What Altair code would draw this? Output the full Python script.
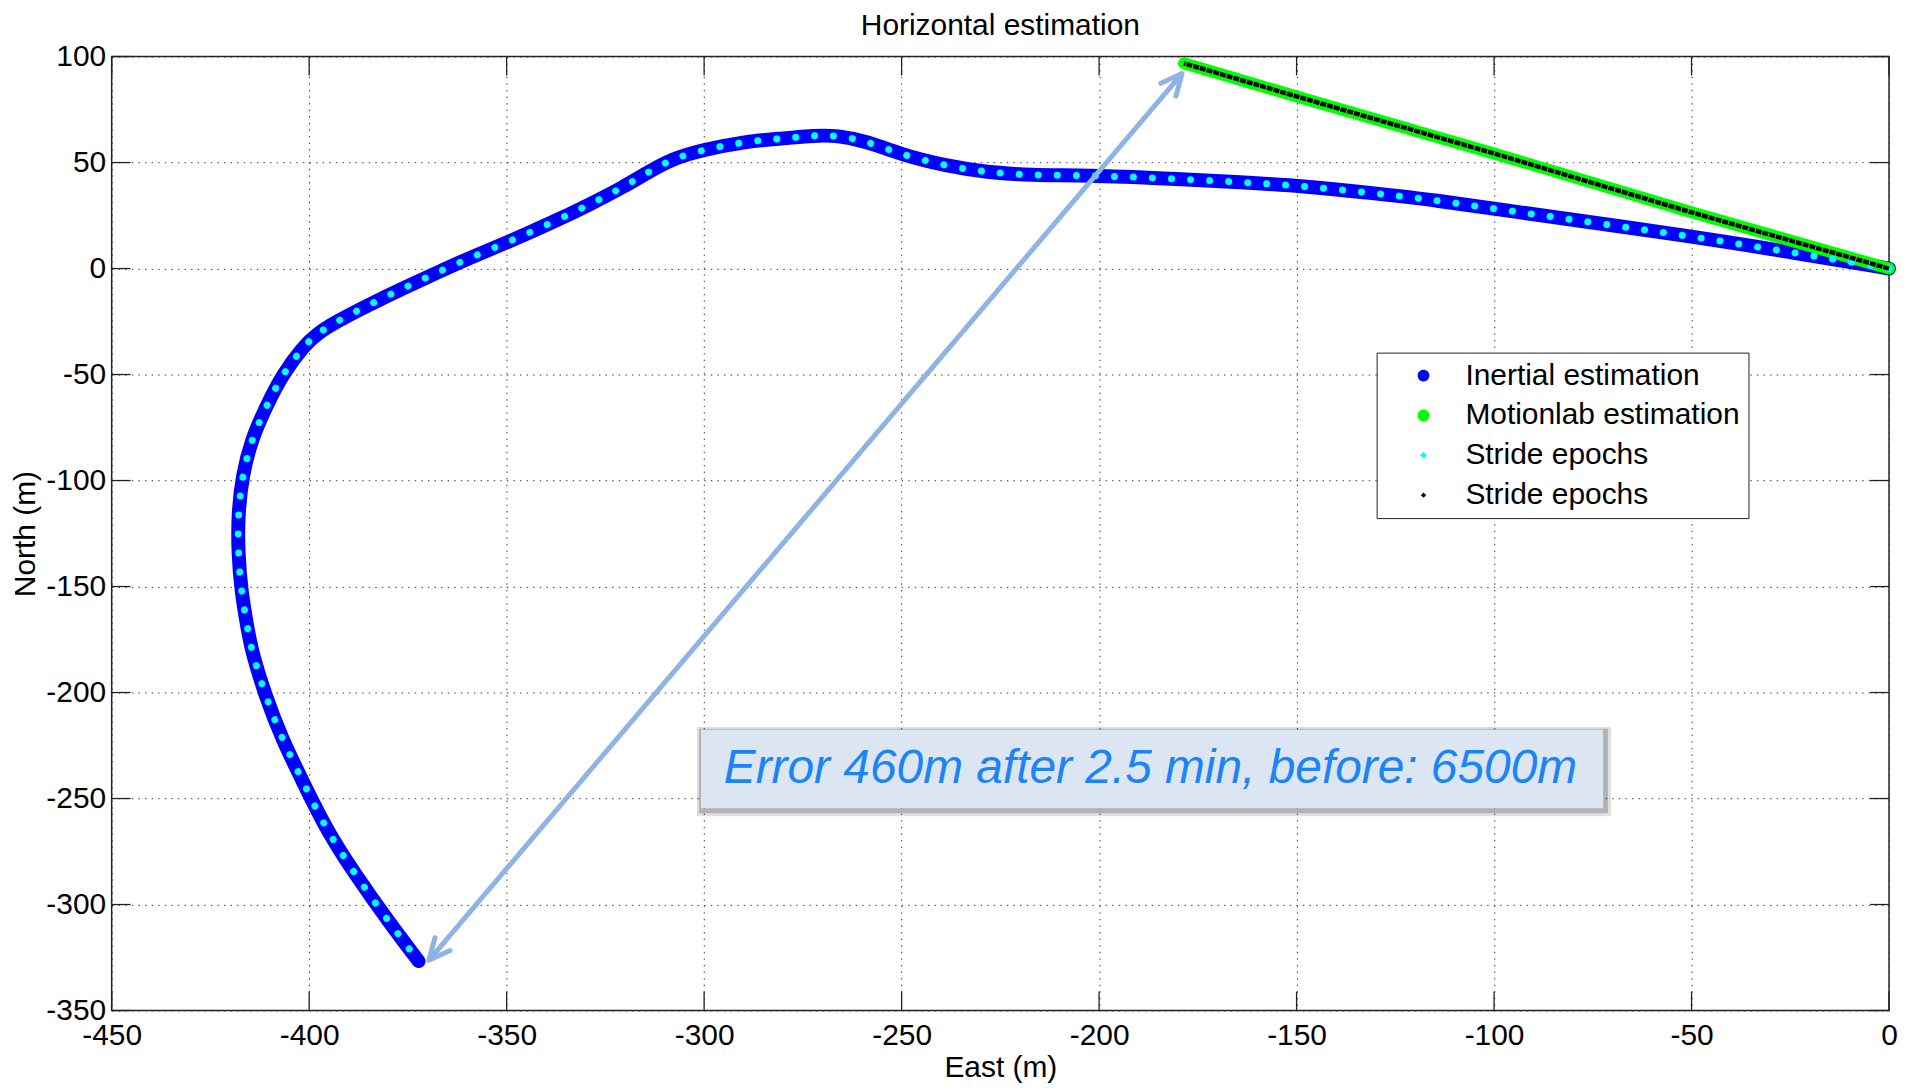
import math
import altair as alt
import pandas as pd

# ---------------- data ----------------
inertial_east = [0, -18.9, -50, -99.4, -114.9, -130.7, -147.6, -163.5, -183.7, -202.7,
                 -217.5, -228.4, -238.5, -250.4, -258.7, -266.3, -272.1, -279.6, -289.5, -300.8,
                 -308.4, -314.2, -320.5, -328.8, -338.6, -349, -358.8, -367.6, -376, -384.9,
                 -393.7, -398, -401.3, -406.8, -410.9, -414.7, -416.9, -418, -418, -417.2,
                 -415.4, -414.4, -411.1, -406.8, -401.5, -395.7, -388.4, -379.8, -372.3]
inertial_north = [0, 5.9, 15.3, 28, 32.3, 35.6, 38.8, 40.7, 42.6, 44,
                  44, 45.4, 48.3, 53.9, 60, 62.8, 62.8, 61.4, 60, 55.8,
                  51.5, 45.4, 38.4, 30.4, 21.6, 13, 5.5, -1.9, -9.1, -17.1,
                  -25.6, -30.8, -36.4, -50, -65.1, -81.1, -97.6, -115.4, -133.8, -152.6,
                  -171.9, -181.3, -201.5, -222.2, -242.4, -264.5, -285.7, -308.3, -326.7]

motion_east = [0, -50, -100, -150, -178.5]
motion_north = [0, 26.5, 54.3, 81.2, 96.8]

legend_labels = ["Inertial estimation", "Motionlab estimation", "Stride epochs", "Stride epochs #2"]
legend_colors = ["#0000FF", "#00FF00", "#00FFFF", "#000000"]

x_ticks = [-450, -400, -350, -300, -250, -200, -150, -100, -50, 0]
y_ticks = [-350, -300, -250, -200, -150, -100, -50, 0, 50, 100]

arrow_east = [-369.7, -179.0]
arrow_north = [-326.3, 92.0]

chart_title = "Horizontal estimation"
note_text = "Error 460m after 2.5 min, before: 6500m"
note_box_east = [-300.8, -72.4]
note_box_north = [-217.5, -254.6]
note_center = [-187.0, -236.2]

# ---------------- layout ----------------
W, H = 1783, 957
FONT = "Liberation Sans"

xs = alt.Scale(domain=[-450, 0], nice=False, zero=False)
ys = alt.Scale(domain=[-350, 100], nice=False, zero=False)

x_axis = alt.Axis(values=x_ticks, title="East (m)", labelExpr="toString(datum.value)",
                  grid=True, ticks=False, domain=False, labelFlush=False,
                  labelOverlap=False, labelPadding=10, titlePadding=2)
y_axis = alt.Axis(values=y_ticks, title="North (m)", labelExpr="toString(datum.value)",
                  grid=True, ticks=False, domain=False, labelFlush=False,
                  labelOverlap=False, labelPadding=6, titlePadding=5)

X = alt.X("east:Q", scale=xs, axis=x_axis)
Y = alt.Y("north:Q", scale=ys, axis=y_axis)

inertial = pd.DataFrame({"east": inertial_east, "north": inertial_north,
                         "i": list(range(len(inertial_east)))})
motion = pd.DataFrame({"east": motion_east, "north": motion_north,
                       "i": list(range(len(motion_east)))})

blue = alt.Chart(inertial).mark_line(color="#0000FF", strokeWidth=14, strokeCap="round",
                                     strokeJoin="round", interpolate="basis").encode(
    x=X, y=Y, order="i:Q")
green = alt.Chart(motion).mark_line(color="#00FF00", strokeWidth=12, strokeCap="round").encode(
    x=X, y=Y, order="i:Q")
cyan = alt.Chart(inertial).mark_line(color="#00FFFF", strokeWidth=7, strokeCap="round",
                                     strokeDash=[0.1, 19], interpolate="basis").encode(
    x=X, y=Y, order="i:Q")
black = alt.Chart(motion).mark_line(color="#000000", strokeWidth=4.5,
                                    strokeDash=[6, 1]).encode(x=X, y=Y, order="i:Q")

# arrow
arrow_df = pd.DataFrame({"east": [arrow_east[0]], "north": [arrow_north[0]],
                         "east2": [arrow_east[1]], "north2": [arrow_north[1]]})
ARROW = "#8DB4E2"
shaft = alt.Chart(arrow_df).mark_rule(color=ARROW, strokeWidth=5).encode(
    x=X, y=Y, x2="east2:Q", y2="north2:Q")
dxp = (arrow_east[1] - arrow_east[0]) * W / 450.0
dyp = (arrow_north[1] - arrow_north[0]) * H / 450.0
ang = math.degrees(math.atan2(dxp, dyp)) % 360
heads_df = pd.DataFrame({"east": arrow_east, "north": arrow_north,
                         "ang": [(ang + 180) % 360, ang]})
heads = alt.Chart(heads_df).mark_point(shape="M-0.47,1L0,0L0.47,1", filled=False,
                                       color=ARROW, strokeWidth=5, size=1800,
                                       strokeCap="round", strokeJoin="round", opacity=1).encode(
    x=X, y=Y, angle=alt.Angle("ang:Q", scale=None))

# annotation box
box_df = pd.DataFrame({"east": [note_box_east[0]], "east2": [note_box_east[1]],
                       "north": [note_box_north[0]], "north2": [note_box_north[1]]})
shadow1 = alt.Chart(box_df).mark_rect(color="#000000", opacity=0.12, xOffset=-4, x2Offset=8,
                                      yOffset=-3, y2Offset=8).encode(
    x=X, x2="east2:Q", y=Y, y2="north2:Q")
shadow2 = alt.Chart(box_df).mark_rect(color="#000000", opacity=0.2, xOffset=-2, x2Offset=5,
                                      yOffset=-1, y2Offset=5).encode(
    x=X, x2="east2:Q", y=Y, y2="north2:Q")
box = alt.Chart(box_df).mark_rect(color="#DCE6F2", opacity=1).encode(
    x=X, x2="east2:Q", y=Y, y2="north2:Q")
text_df = pd.DataFrame({"east": [note_center[0]], "north": [note_center[1]], "t": [note_text]})
note = alt.Chart(text_df).mark_text(font=FONT, fontSize=48, fontStyle="italic",
                                    color="#1A84F8", align="center", baseline="middle").encode(
    x=X, y=Y, text="t:N")

# chart title as a text mark above the plot
title_df = pd.DataFrame({"t": [chart_title]})
title = alt.Chart(title_df).mark_text(font=FONT, fontSize=30, color="black", align="center",
                                      baseline="alphabetic").encode(
    x=alt.value(W / 2), y=alt.value(-22), text="t:N")

# inward ticks on the four sides
xt = pd.DataFrame({"east": x_ticks})
yt = pd.DataFrame({"north": y_ticks})
TK = 19
tick_b = alt.Chart(xt).mark_rule(color="#222222", strokeWidth=1.3).encode(
    x=X, y=alt.value(H), y2=alt.value(H - TK))
tick_t = alt.Chart(xt).mark_rule(color="#222222", strokeWidth=1.3).encode(
    x=X, y=alt.value(0), y2=alt.value(TK))
tick_l = alt.Chart(yt).mark_rule(color="#222222", strokeWidth=1.3).encode(
    y=Y, x=alt.value(0), x2=alt.value(TK))
tick_r = alt.Chart(yt).mark_rule(color="#222222", strokeWidth=1.3).encode(
    y=Y, x=alt.value(W), x2=alt.value(W - TK))

# legend (from an invisible point layer)
leg = alt.Legend(title=None, orient="none", legendX=1269, legendY=297,
                 fillColor="white", strokeColor="#222222", padding=8,
                 labelFont=FONT, labelFontSize=30, labelColor="black", labelLimit=600,
                 symbolSize=140, symbolOffset=24, labelOffset=27, rowPadding=10,
                 symbolOpacity=1, symbolStrokeWidth=0,
                 labelExpr="replace(datum.label, ' #2', '')")
leg_df = pd.DataFrame({"label": legend_labels})
legend_layer = alt.Chart(leg_df).mark_point(filled=True, opacity=0).encode(
    x=alt.value(0), y=alt.value(0),
    color=alt.Color("label:N", scale=alt.Scale(domain=legend_labels, range=legend_colors),
                    legend=leg),
    shape=alt.Shape("label:N", scale=alt.Scale(
        domain=legend_labels,
        range=["M0,-1A1,1 0 1,1 0,1A1,1 0 1,1 0,-1Z",
               "M0,-1A1,1 0 1,1 0,1A1,1 0 1,1 0,-1Z",
               "M0,-0.58L0.58,0L0,0.58L-0.58,0Z",
               "M0,-0.45L0.45,0L0,0.45L-0.45,0Z"]),
        legend=leg),
)

chart = alt.layer(
    tick_b, tick_t, tick_l, tick_r,
    blue, green, cyan, black,
    shaft, heads,
    shadow1, shadow2, box, note,
    title,
    legend_layer,
).properties(
    width=W, height=H,
    autosize=alt.AutoSizeParams(type="none"),
    padding={"left": 104, "top": 47, "right": 10, "bottom": 72},
).configure(font=FONT).configure_view(
    stroke="#222222", strokeWidth=1.5
).configure_axis(
    labelFont=FONT, labelFontSize=30, labelColor="black",
    titleFont=FONT, titleFontSize=30, titleFontWeight="normal", titleColor="black",
    gridColor="#333333", gridDash=[1.4, 5.2], gridWidth=1, gridOpacity=1,
)

chart.save("out.html", embed_options={"renderer": "svg", "actions": False})
